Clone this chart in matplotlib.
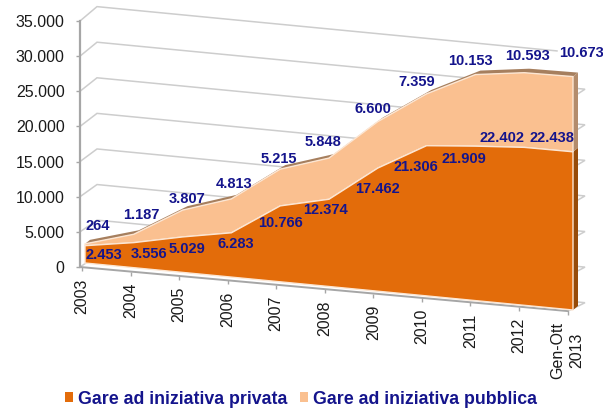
import numpy as np
import matplotlib
matplotlib.use("Agg")
import matplotlib.pyplot as plt
from matplotlib.patches import Patch

categories = ["2003", "2004", "2005", "2006", "2007", "2008", "2009", "2010", "2011", "2012", "Gen-Ott\n2013"]
privata = [2453, 3556, 5029, 6283, 10766, 12374, 17462, 21306, 21909, 22402, 22438]
pubblica = [264, 1187, 3807, 4813, 5215, 5848, 6600, 7359, 10153, 10593, 10673]
privata_labels = ["2.453", "3.556", "5.029", "6.283", "10.766", "12.374", "17.462", "21.306", "21.909", "22.402", "22.438"]
pubblica_labels = ["264", "1.187", "3.807", "4.813", "5.215", "5.848", "6.600", "7.359", "10.153", "10.593", "10.673"]
y_ticks = [0, 5000, 10000, 15000, 20000, 25000, 30000, 35000]
y_ticklabels = ["0", "5.000", "10.000", "15.000", "20.000", "25.000", "30.000", "35.000"]

# label offsets, pixels from the point on the area's top edge
priv_off = [(19, -9), (15, -11), (4, -12), (4, -11), (0, -17), (-4, -11), (0, -21), (-11, -21), (-12, -13), (-22, 9), (-21, 14)]
pub_off = [(13, 18), (8, 19), (4, 11), (3, 15), (-1, 10), (-6, 16), (-5, 13), (-10, 12), (-5, 14), (3, 17), (8, 24)]

plt.rcParams["font.family"] = ["Liberation Sans", "DejaVu Sans"]
W, H = 603, 409
fig = plt.figure(figsize=(W / 100, H / 100), dpi=100)

# axes frame: the front-left vertical axis, in reference pixels
PX_L, PX_R, PX_B, PX_T = 80, 585, 267, 21
ax = fig.add_axes([PX_L / W, 1 - PX_B / H, (PX_R - PX_L) / W, (PX_B - PX_T) / H])
STEP = 48.8
X0 = 85
ax.set_xlim((PX_L - X0) / STEP, (PX_R - X0) / STEP)
ax.set_ylim(0, 35000)
PX_PER_V = (PX_B - PX_T) / 35000


def plane(i, v, x_shift_px, y0_px, slope_px, scale=1.0):
    """Project (category index, value) on to a sheared plane of the 3-D box."""
    i = np.asarray(i, float)
    v = np.asarray(v, float)
    x = i + x_shift_px / STEP
    y_px = y0_px + slope_px * i - PX_PER_V * scale * v
    return x, (PX_B - y_px) / PX_PER_V


def area(i, v):
    return plane(i, v, 0, 263, 4.7, 1.003)


def area_back(i, v):
    return plane(i, v, 5, 259, 4.7, 1.003)


def wall(i, v):
    return plane(i, v, 12, 256 - 0.3, 4.7, 1.0125)


def floor(i, v):
    return plane(i, v, 0, 267.45, 4.41)


GRID = "#CDCDCD"
AXIS = "#A6A6A6"
idx = np.arange(len(categories))
i_left, i_right = (PX_L - X0) / STEP, (568 - X0) / STEP
i_wall_l, i_wall_r = (97 - X0 - 12) / STEP, (585 - X0 - 12) / STEP
i_top_end = (557 - X0 - 12) / STEP

for v in y_ticks:
    xa, ya = floor(i_left, v)
    xb, yb = wall(i_wall_l, v)
    if v == y_ticks[-1]:
        xc, yc = wall(i_top_end, v)
        ax.plot([xa, xb, xc], [ya, yb, yc], color=GRID, lw=1.1, clip_on=False, zorder=1, solid_joinstyle="miter")
    else:
        xc, yc = wall(i_wall_r, v)
        xd, yd = floor(i_right, v)
        ax.plot([xa, xb, xc, xd], [ya, yb, yc, yd], color=GRID, lw=1.1, clip_on=False, zorder=1, solid_joinstyle="miter")

fx, fy = floor(np.array([i_left, i_right]), 0)
ax.plot(fx, fy, color=AXIS, lw=1.4, clip_on=False, zorder=1.5)

priv = np.array(privata, float)
tot = priv + np.array(pubblica, float)

# depth: top strip and right side faces
STRIP = "#A67F5E"
bx, by = area_back(idx, tot)
fx2, fy2 = area(idx, tot)
ax.fill(np.r_[fx2, bx[::-1]], np.r_[fy2, by[::-1]], color=STRIP, lw=0, clip_on=False, zorder=2)


def side(v_low, v_high, color):
    x1, y1 = area(idx[-1], v_low)
    x2, y2 = area(idx[-1], v_high)
    x3, y3 = area_back(idx[-1], v_high)
    x4, y4 = area_back(idx[-1], v_low)
    ax.fill([x1, x2, x3, x4], [y1, y2, y3, y4], color=color, lw=0, clip_on=False, zorder=2)


side(0, priv[-1], "#974B08")
side(priv[-1], tot[-1], "#B38C6C")

# front faces
EDGE = "#FCE6D3"
x_b, y_b = area(idx, 0)
x_p, y_p = area(idx, priv)
x_t, y_t = area(idx, tot)
ax.fill(np.r_[x_p, x_t[::-1]], np.r_[y_p, y_t[::-1]], facecolor="#FAC090", edgecolor=EDGE, lw=1.0,
        clip_on=False, zorder=3, joinstyle="miter")
ax.fill(np.r_[x_b, x_p[::-1]], np.r_[y_b, y_p[::-1]], facecolor="#E36C0A", edgecolor=EDGE, lw=1.0,
        clip_on=False, zorder=4, joinstyle="miter")

# axes furniture
for s in ["top", "right", "bottom"]:
    ax.spines[s].set_visible(False)
ax.spines["left"].set_color(AXIS)
ax.spines["left"].set_linewidth(1.6)
ax.patch.set_alpha(0)
ax.set_yticks(y_ticks)
ax.set_yticklabels(y_ticklabels, fontsize=11.5, color="#1A1A1A")
ax.tick_params(axis="y", length=3, width=1, color=AXIS, pad=8)

tick_pos = idx * 48.55 / STEP - 3 / STEP
ax.set_xticks(tick_pos)
ax.set_xticklabels(categories, rotation=90, fontsize=11.5, color="#1A1A1A", va="top", ha="center",
                   linespacing=1.35)
ax.tick_params(axis="x", length=3, width=1, color=AXIS, pad=5)
for t, p in zip(ax.xaxis.get_major_ticks(), tick_pos):
    _, fv = floor(p, 0)
    frac = fv / 35000
    t.tick1line.set_ydata([frac])
    t.label1.set_y(frac)

NAVY = "#14148C"
for x, y, lab, off in zip(x_p, y_p, privata_labels, priv_off):
    ax.annotate(lab, (x, y), xytext=off, textcoords="offset pixels", ha="center", va="center",
                fontsize=10.5, fontweight="bold", color=NAVY, annotation_clip=False, zorder=6)
for x, y, lab, off in zip(x_t, y_t, pubblica_labels, pub_off):
    ax.annotate(lab, (x, y), xytext=off, textcoords="offset pixels", ha="center", va="center",
                fontsize=10.5, fontweight="bold", color=NAVY, annotation_clip=False, zorder=6)

handles = [Patch(facecolor="#E36C0A", label="Gare ad iniziativa privata"),
           Patch(facecolor="#FAC090", label="Gare ad iniziativa pubblica")]
fig.legend(handles=handles, ncol=2, loc="center", bbox_to_anchor=(301 / W, 1 - 399 / H), frameon=False,
           prop={"size": 12.75, "weight": "bold"}, labelcolor=NAVY, handlelength=0.45, handleheight=0.45,
           handletextpad=0.28, columnspacing=0.73, borderpad=0, borderaxespad=0)

fig.savefig("out.png", dpi=100)
